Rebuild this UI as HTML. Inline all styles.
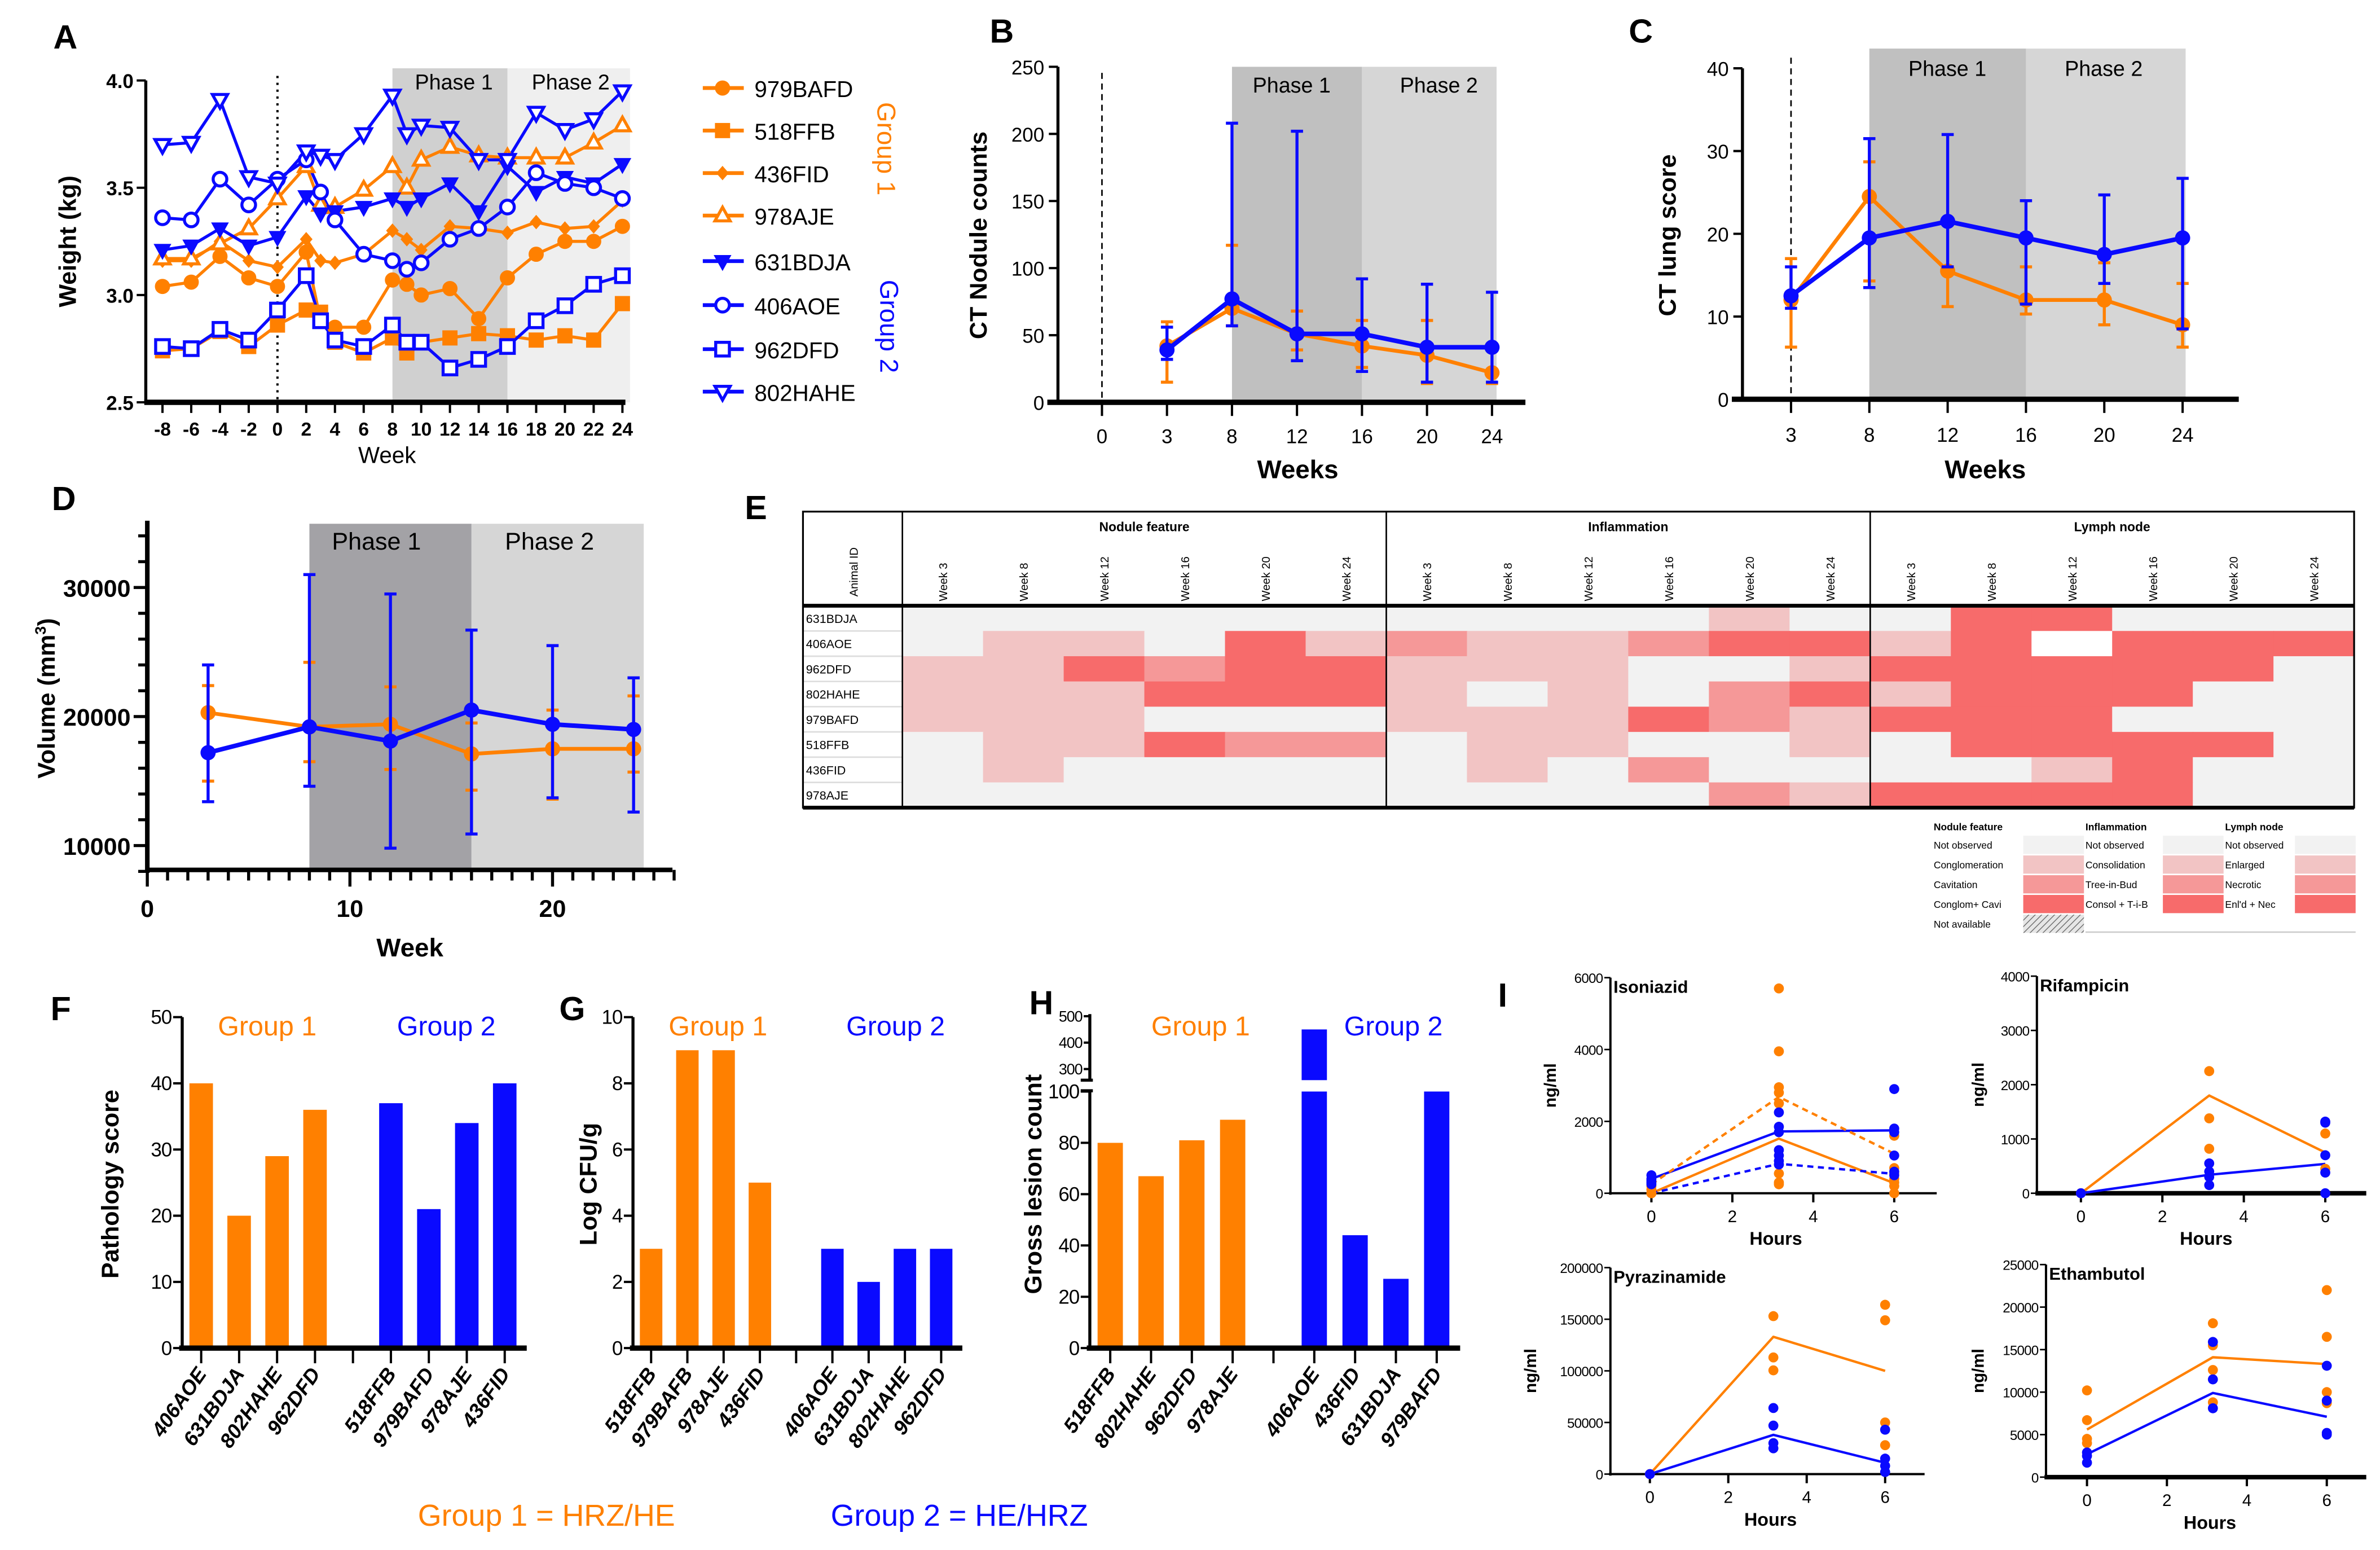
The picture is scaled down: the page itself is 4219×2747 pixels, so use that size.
<!DOCTYPE html>
<html><head><meta charset="utf-8"><style>
html,body{margin:0;padding:0;background:#fff}
svg{display:block}
text{font-family:"Liberation Sans",Arial,sans-serif}
</style></head><body>
<svg id="fig" xmlns="http://www.w3.org/2000/svg" width="4219" height="2747" viewBox="0 0 1568 1021"></svg>
<script>
// ---------- DATA ----------
// Panel A
const weeksA = [-8,-6,-4,-2,0,2,3,4,6,8,9,10,12,14,16,18,20,22,24];
const animalsA = ['979BAFD','518FFB','436FID','978AJE','631BDJA','406AOE','962DFD','802HAHE'];
const w979BAFD = [3.04,3.06,3.18,3.08,3.04,3.20,2.88,2.85,2.85,3.07,3.05,3.00,3.03,2.89,3.08,3.19,3.25,3.25,3.32];
const w518FFB  = [2.74,2.75,2.83,2.76,2.86,2.93,2.92,2.78,2.73,2.80,2.73,2.78,2.80,2.82,2.81,2.79,2.81,2.79,2.96];
const w436FID  = [3.16,3.16,3.25,3.16,3.13,3.26,3.16,3.15,3.19,3.30,3.26,3.21,3.32,3.31,3.29,3.34,3.31,3.32,3.44];
const w978AJE  = [3.17,3.17,3.24,3.31,3.45,3.60,3.42,3.41,3.49,3.60,3.50,3.63,3.69,3.65,3.64,3.64,3.64,3.71,3.79];
const w631BDJA = [3.21,3.23,3.31,3.23,3.27,3.46,3.38,3.39,3.41,3.45,3.41,3.45,3.52,3.39,3.60,3.48,3.55,3.52,3.61];
const w406AOE  = [3.36,3.35,3.54,3.42,3.54,3.63,3.48,3.35,3.19,3.16,3.12,3.15,3.26,3.31,3.41,3.57,3.52,3.50,3.45];
const w962DFD  = [2.76,2.75,2.84,2.79,2.93,3.09,2.88,2.79,2.76,2.86,2.78,2.78,2.66,2.70,2.76,2.88,2.95,3.05,3.09];
const w802HAHE = [3.70,3.71,3.91,3.55,3.52,3.67,3.65,3.63,3.75,3.93,3.75,3.79,3.78,3.63,3.63,3.85,3.77,3.82,3.95];
// Panel B
const weeksB = [3,8,12,16,20,24];
const ticksB = [0,3,8,12,16,20,24];
const nodBlue = [39,77,51,51,41,41];
const nodBlueLo = [32,57,31,23,15,15];
const nodBlueHi = [56,208,202,92,88,82];
const nodOrange = [42,70,51,42,35,22];
const nodOrangeLo = [15,57,39,26,14,14];
const nodOrangeHi = [60,117,68,61,61,24];
// Panel C
const weeksC = [3,8,12,16,20,24];
const lungBlue = [12.5,19.5,21.5,19.5,17.5,19.5];
const lungBlueLo = [11,13.5,16,11.5,14,8.5];
const lungBlueHi = [16,31.5,32,24,24.7,26.7];
const lungOrange = [12,24.5,15.5,12,12,9];
const lungOrangeLo = [6.3,14.3,11.2,10.3,9,6.3];
const lungOrangeHi = [17,28.7,16,16,16.5,14];
// Panel D
const weeksD = [3,8,12,16,20,24];
const volBlue = [17200,19200,18100,20500,19400,19000];
const volBlueLo = [13400,14600,9800,10900,13700,12600];
const volBlueHi = [24000,31000,29500,26700,25500,23000];
const volOrange = [20300,19200,19400,17100,17500,17500];
const volOrangeLo = [15000,16500,15900,14300,13600,15700];
const volOrangeHi = [22400,24200,22300,19500,20500,21600];
// Panel E
const heatRows = ['631BDJA','406AOE','962DFD','802HAHE','979BAFD','518FFB','436FID','978AJE'];
const heatWeeks = ['Week 3','Week 8','Week 12','Week 16','Week 20','Week 24'];
const heatGroups = ['Nodule feature','Inflammation','Lymph node'];
const heatVals = [
 [0,0,0,0,0,0, 0,0,0,0,1,0, 0,3,3,0,0,0],
 [0,1,1,0,3,1, 2,1,1,2,3,3, 1,3,-1,3,3,3],
 [1,1,3,2,3,3, 1,1,1,0,0,1, 3,3,3,3,3,0],
 [1,1,1,3,3,3, 1,0,1,0,2,3, 1,3,3,3,0,0],
 [1,1,1,0,0,0, 1,1,1,3,2,1, 3,3,3,0,0,0],
 [0,1,1,3,2,2, 0,1,1,0,0,1, 0,3,3,3,3,0],
 [0,1,0,0,0,0, 0,1,0,2,0,0, 0,0,1,3,0,0],
 [0,0,0,0,0,0, 0,0,0,0,2,1, 3,3,3,3,0,0]];
const legNodule = ['Not observed','Conglomeration','Cavitation','Conglom+ Cavi','Not available'];
const legInfl = ['Not observed','Consolidation','Tree-in-Bud','Consol + T-i-B'];
const legLymph = ['Not observed','Enlarged','Necrotic','Enl\'d + Nec'];
// Panel F
const catF1 = ['406AOE','631BDJA','802HAHE','962DFD'];
const valF1 = [40,20,29,36];
const catF2 = ['518FFB','979BAFD','978AJE','436FID'];
const valF2 = [37,21,34,40];
// Panel G
const catG1 = ['518FFB','979BAFB','978AJE','436FID'];
const valG1 = [3,9,9,5];
const catG2 = ['406AOE','631BDJA','802HAHE','962DFD'];
const valG2 = [3,2,3,3];
// Panel H
const catH1 = ['518FFB','802HAHE','962DFD','978AJE'];
const valH1 = [80,67,81,89];
const catH2 = ['406AOE','436FID','631BDJA','979BAFD'];
const valH2 = [450,44,27,100];
// Panel I
const hoursI = [0,3.15,6];
const isoO0=[0,100,200,0], isoO3=[5700,3950,2950,2800,2500,550,300,250], isoO6=[1600,700,550,400,300,200,0];
const isoB0=[500,400,350,300,250], isoB3=[2250,1850,1700,1200,1050,900,800], isoB6=[2900,1800,1700,1050,600,500];
const isoLineO=[0,1520,280], isoLineB=[400,1720,1750], isoDashO=[250,2680,1100], isoDashB=[0,820,540];
const rifO0=[0], rifO3=[2250,1380,820], rifO6=[1100,450];
const rifB0=[0], rifB3=[550,400,300,150], rifB6=[1320,1300,700,380,0];
const rifLineO=[0,1800,750], rifLineB=[0,340,540];
const pyrO0=[0], pyrO3=[153000,113000,100500], pyrO6=[164000,149000,50000,28000];
const pyrB0=[0], pyrB3=[64000,47000,30000,25000], pyrB6=[43000,15000,8000,2000];
const pyrLineO=[0,133000,100000], pyrLineB=[0,38000,11000];
const ethO0=[10200,6700,4500,4000], ethO3=[18100,15500,12600,8800], ethO6=[22000,16500,10000,8700];
const ethB0=[2900,2500,1700], ethB3=[15900,11500,8100], ethB6=[13100,9000,5200,5000];
const ethLineO=[5600,14100,13300], ethLineB=[2700,9900,7100];

// ---------- HELPERS ----------
const NS='http://www.w3.org/2000/svg';
const svg=document.getElementById('fig');
const OR='#ff8000', BL='#0a0aff';
function mk(tag,attrs,parent){const e=document.createElementNS(NS,tag);for(const k in attrs)e.setAttribute(k,attrs[k]);(parent||svg).appendChild(e);return e;}
function nm(el,name){


return el;}
function grp(name){const g=mk('g',{});nm(g,name);return g;}
function txt(p,x,y,s,o,name){o=o||{};const t=mk('text',{x:x,y:y,'font-size':o.fs||12,'text-anchor':o.a||'middle',fill:o.c||'#000','font-weight':o.w||'normal'},p);
if(o.rot!==undefined)t.setAttribute('transform','rotate('+o.rot+' '+x+' '+y+')');
if(o.st)t.setAttribute('font-style',o.st);
if(o.ls)t.setAttribute('letter-spacing',o.ls);
t.textContent=s;nm(t,name||'label');return t;}
function line(p,x1,y1,x2,y2,c,w,name,dash){const l=mk('line',{x1:x1,y1:y1,x2:x2,y2:y2,stroke:c,'stroke-width':w},p);if(dash)l.setAttribute('stroke-dasharray',dash);nm(l,name||'line');return l;}
function rect(p,x,y,w,h,f,name){const r=mk('rect',{x:x,y:y,width:w,height:h,fill:f},p);nm(r,name||'rect');return r;}
function poly(p,pts,c,w,name,dash){const l=mk('polyline',{points:pts.map(q=>q[0]+','+q[1]).join(' '),fill:'none',stroke:c,'stroke-width':w,'stroke-linejoin':'round'},p);if(dash)l.setAttribute('stroke-dasharray',dash);nm(l,name||'series-line');return l;}

// ---------- PANEL A ----------
(function(){
const g=grp('panel-a-weight');
const ax=w=>107+(w+8)*9.47, ay=v=>265-(v-2.5)/1.5*212;
txt(g,43,32,'A',{fs:22,w:'bold'},'panel-label-a');
rect(g,ax(8),45,ax(16)-ax(8),220,'#d0d0d0','phase-1-band');
rect(g,ax(16),45,ax(24)+5-ax(16),220,'#efefef','phase-2-band');
txt(g,299,59,'Phase 1',{fs:14},'phase-1-label');
txt(g,376,59,'Phase 2',{fs:14},'phase-2-label');
line(g,ax(0),50,ax(0),265,'#000',1.5,'week-0-dotted-line','1.5,3');
line(g,96,53,96,266,'#000',2,'y-axis');
line(g,95,265,412,265,'#000',3.5,'x-axis');
[2.5,3.0,3.5,4.0].forEach(v=>{line(g,90,ay(v),96,ay(v),'#000',1.5,'y-tick');txt(g,88,ay(v)+5,v.toFixed(1),{fs:13,a:'end',w:'bold'},'y-tick-label');});
for(let w=-8;w<=24;w+=2){line(g,ax(w),265,ax(w),272,'#000',1.5,'x-tick');txt(g,ax(w),287,String(w),{fs:12.5,w:'bold'},'x-tick-label');}
txt(g,255,305,'Week',{fs:15},'x-axis-title');
txt(g,50,159,'Weight (kg)',{fs:16,w:'bold',rot:-90},'y-axis-title');
const series=[[w979BAFD,OR,'circle',1],[w518FFB,OR,'square',1],[w436FID,OR,'diamond',1],[w978AJE,OR,'tri',0],
 [w631BDJA,BL,'itri',1],[w406AOE,BL,'circle',0],[w962DFD,BL,'square',0],[w802HAHE,BL,'itri',0]];
function marker(p,x,y,shape,fill,c,name){let e;const r=4.5;
 if(shape==='circle')e=mk('circle',{cx:x,cy:y,r:r},p);
 else if(shape==='square')e=mk('rect',{x:x-r,y:y-r,width:2*r,height:2*r},p);
 else if(shape==='diamond')e=mk('polygon',{points:`${x},${y-4} ${x+3.5},${y} ${x},${y+4} ${x-3.5},${y}`},p);
 else if(shape==='tri')e=mk('polygon',{points:`${x},${y-5.5} ${x+5},${y+3.5} ${x-5},${y+3.5}`},p);
 else e=mk('polygon',{points:`${x},${y+5.5} ${x+5},${y-3.5} ${x-5},${y-3.5}`},p);
 e.setAttribute('fill',fill?c:'#fff');e.setAttribute('stroke',c);e.setAttribute('stroke-width',fill?1:2);nm(e,name);return e;}
series.forEach((s,i)=>{poly(g,weeksA.map((w,j)=>[ax(w),ay(s[0][j])]),s[1],2,'line-'+animalsA[i]);});
series.forEach((s,i)=>{weeksA.forEach((w,j)=>marker(g,ax(w),ay(s[0][j]),s[2],s[3],s[1],'point-'+animalsA[i]));});
const ly=[58,86,114,142,172,201,230,258];
series.forEach((s,i)=>{const lg=grp('legend-entry-'+animalsA[i]);line(lg,463,ly[i],490,ly[i],s[1],2.5,'legend-line');marker(lg,476,ly[i],s[2],s[3],s[1],'legend-marker');txt(lg,497,ly[i]+6,animalsA[i],{fs:15,a:'start'},'legend-text');});
txt(g,578,98,'Group 1',{fs:17,c:OR,rot:90},'legend-group-1');
txt(g,580,215,'Group 2',{fs:17,c:BL,rot:90},'legend-group-2');
})();

// ---------- error plot helper ----------
function errPlot(g,xs,ys,yv,lo,hi,c,name,lw){
 xs.forEach((x,i)=>{const X=xs[i];line(g,X,ys(lo[i]),X,ys(hi[i]),c,2,name+'-errorbar');line(g,X-4,ys(lo[i]),X+4,ys(lo[i]),c,2,name+'-cap');line(g,X-4,ys(hi[i]),X+4,ys(hi[i]),c,2,name+'-cap');});
 poly(g,xs.map((x,i)=>[x,ys(yv[i])]),c,lw,name+'-line');
 xs.forEach((x,i)=>{const e=mk('circle',{cx:x,cy:ys(yv[i]),r:5,fill:c},g);nm(e,name+'-point');});
}

// ---------- PANEL B ----------
(function(){
const g=grp('panel-b-nodule-counts');
const bx=w=>726+ticksB.indexOf(w)*42.83, by=v=>265-v*0.884;
txt(g,660,28,'B',{fs:22,w:'bold'},'panel-label-b');
rect(g,bx(8),44,bx(16)-bx(8),221,'#c0c0c0','phase-1-band');
rect(g,bx(16),44,bx(24)+3-bx(16),221,'#d6d6d6','phase-2-band');
txt(g,851,61,'Phase 1',{fs:14},'phase-1-label');
txt(g,948,61,'Phase 2',{fs:14},'phase-2-label');
line(g,bx(0),48,bx(0),265,'#000',1,'week-0-dashed-line','4,3');
line(g,697,44,697,266,'#000',2,'y-axis');
line(g,690,265,1005,265,'#000',3.5,'x-axis');
[0,50,100,150,200,250].forEach(v=>{line(g,691,by(v),697,by(v),'#000',1.5,'y-tick');txt(g,688,by(v)+5,String(v),{fs:13,a:'end'},'y-tick-label');});
ticksB.forEach(w=>{line(g,bx(w),265,bx(w),274,'#000',1.5,'x-tick');txt(g,bx(w),292,String(w),{fs:13},'x-tick-label');});
txt(g,855,315,'Weeks',{fs:17,w:'bold'},'x-axis-title');
txt(g,650,155,'CT Nodule counts',{fs:16,w:'bold',rot:-90},'y-axis-title');
const xs=weeksB.map(bx);
errPlot(g,xs,by,nodOrange,nodOrangeLo,nodOrangeHi,OR,'group-1',2.5);
errPlot(g,xs,by,nodBlue,nodBlueLo,nodBlueHi,BL,'group-2',3);
})();

// ---------- PANEL C ----------
(function(){
const g=grp('panel-c-lung-score');
const cx=w=>1180+weeksC.indexOf(w)*51.6, cy=v=>263-v*5.45;
txt(g,1081,28,'C',{fs:22,w:'bold'},'panel-label-c');
rect(g,cx(8),32,cx(16)-cx(8),231,'#c0c0c0','phase-1-band');
rect(g,cx(16),32,cx(24)+2-cx(16),231,'#d6d6d6','phase-2-band');
txt(g,1283,50,'Phase 1',{fs:14},'phase-1-label');
txt(g,1386,50,'Phase 2',{fs:14},'phase-2-label');
line(g,cx(3),38,cx(3),263,'#000',1,'week-3-dashed-line','4,3');
line(g,1148,45,1148,264,'#000',2,'y-axis');
line(g,1141,263,1475,263,'#000',3.5,'x-axis');
[0,10,20,30,40].forEach(v=>{line(g,1142,cy(v),1148,cy(v),'#000',1.5,'y-tick');txt(g,1139,cy(v)+5,String(v),{fs:13,a:'end'},'y-tick-label');});
weeksC.forEach(w=>{line(g,cx(w),263,cx(w),272,'#000',1.5,'x-tick');txt(g,cx(w),291,String(w),{fs:13},'x-tick-label');});
txt(g,1308,315,'Weeks',{fs:17,w:'bold'},'x-axis-title');
txt(g,1104,155,'CT lung score',{fs:16,w:'bold',rot:-90},'y-axis-title');
const xs=weeksC.map(cx);
errPlot(g,xs,cy,lungOrange,lungOrangeLo,lungOrangeHi,OR,'group-1',2.5);
errPlot(g,xs,cy,lungBlue,lungBlueLo,lungBlueHi,BL,'group-2',3);
})();

// ---------- PANEL D ----------
(function(){
const g=grp('panel-d-volume');
const dx=w=>97+w*13.35, dy=v=>557-(v-10000)*0.0085;
txt(g,42,336,'D',{fs:22,w:'bold'},'panel-label-d');
rect(g,dx(8),345,dx(16)-dx(8),228,'#a3a2a6','phase-1-band');
rect(g,dx(16),345,dx(24.5)-dx(16),228,'#d6d6d6','phase-2-band');
txt(g,248,362,'Phase 1',{fs:16},'phase-1-label');
txt(g,362,362,'Phase 2',{fs:16},'phase-2-label');
line(g,97,343,97,575,'#000',3,'y-axis');
line(g,96,573,443,573,'#000',3,'x-axis');
for(let v=10000;v<=34000;v+=2000){const maj=v%10000===0;line(g,maj?88:91,dy(v),97,dy(v),'#000',2,'y-tick');if(maj)txt(g,86,dy(v)+6,String(v),{fs:16,a:'end',w:'bold'},'y-tick-label');}
line(g,91,dy(8000),97,dy(8000),'#000',2,'y-tick');
for(let w=0;w<=26;w++){const maj=w%10===0;line(g,dx(w),573,dx(w),maj?584:580,'#000',2,'x-tick');if(maj)txt(g,dx(w),604,String(w),{fs:16,w:'bold'},'x-tick-label');}
txt(g,270,630,'Week',{fs:17,w:'bold'},'x-axis-title');
const yt=txt(g,36,460,'Volume (mm',{fs:16,w:'bold',rot:-90},'y-axis-title');
const sup=mk('tspan',{'font-size':10,dy:-6},yt);sup.textContent='3';nm(sup,'superscript');
const cl=mk('tspan',{dy:6},yt);cl.textContent=')';nm(cl,'paren');
const xs=weeksD.map(dx);
errPlot(g,xs,dy,volOrange,volOrangeLo,volOrangeHi,OR,'group-1',2.5);
errPlot(g,xs,dy,volBlue,volBlueLo,volBlueHi,BL,'group-2',3);
})();

// ---------- PANEL E ----------
(function(){
const g=grp('panel-e-heatmap');
txt(g,498,342,'E',{fs:22,w:'bold'},'panel-label-e');
const L=529,ID=594.5,R=1551,T=337,HB=399,cw=(R-ID)/18,rh=(532-HB)/8;
const cols=['#f2f2f2','#f2c4c4','#f59898','#f76b6b'];
rect(g,L,T,R-L,195,'#fff','table-background');
heatVals.forEach((row,i)=>row.forEach((v,j)=>{rect(g,ID+j*cw,HB+i*rh,cw+0.4,rh+0.4,v<0?'#ffffff':cols[v],'heat-cell');}));
heatRows.forEach((r,i)=>{line(g,L,HB+i*rh,ID,HB+i*rh,'#ddd',1,'row-divider');txt(g,531,HB+i*rh+rh/2+3,r,{fs:8,a:'start'},'row-label');});
mk('rect',{x:L,y:T,width:R-L,height:195,fill:'none',stroke:'#000','stroke-width':1.2},g);
line(g,L,HB,R,HB,'#000',2.5,'header-divider');
line(g,L,532,R,532,'#000',2.5,'table-bottom');
line(g,ID,T,ID,532,'#000',1,'id-divider');
[6,12].forEach(k=>line(g,ID+k*cw,T,ID+k*cw,532,'#000',1,'group-divider'));
heatGroups.forEach((n,k)=>{txt(g,ID+(k*6+3)*cw,350,n,{fs:8.5,w:'bold'},'column-group-label');
 heatWeeks.forEach((w,j)=>{const x=ID+(k*6+j+0.5)*cw+3;txt(g,x,396,w,{fs:7.5,a:'start',rot:-90},'column-label');});});
txt(g,565,393,'Animal ID',{fs:7.5,a:'start',rot:-90},'id-header');
const lg=grp('heatmap-legend');
const defs=mk('defs',{},svg);const pat=mk('pattern',{id:'hatch',width:3,height:3,patternUnits:'userSpaceOnUse',patternTransform:'rotate(45)'},defs);
rect(pat,0,0,3,3,'#e6e6e6','hatch-bg');line(pat,0,0,0,3,'#666',1,'hatch-line');
txt(lg,1274,547,'Nodule feature',{fs:6.5,a:'start',w:'bold'},'legend-title');
txt(lg,1374,547,'Inflammation',{fs:6.5,a:'start',w:'bold'},'legend-title');
txt(lg,1466,547,'Lymph node',{fs:6.5,a:'start',w:'bold'},'legend-title');
const ry=[550,563,576,589,602];
legNodule.forEach((s,i)=>{txt(lg,1274,ry[i]+9,s,{fs:6.5,a:'start'},'legend-label');rect(lg,1333,ry[i]+0.5,40,12,i<4?cols[i]:'url(#hatch)','legend-swatch');});
legInfl.forEach((s,i)=>{txt(lg,1374,ry[i]+9,s,{fs:6.5,a:'start'},'legend-label');rect(lg,1425,ry[i]+0.5,40,12,cols[i],'legend-swatch');});
legLymph.forEach((s,i)=>{txt(lg,1466,ry[i]+9,s,{fs:6.5,a:'start'},'legend-label');rect(lg,1512,ry[i]+0.5,40,12,cols[i],'legend-swatch');});
line(lg,1374,614,1552,614,'#ccc',1,'legend-bottom');
})();

// ---------- BAR PANELS ----------
function barPanel(name,letter,lx,ly,ax0,ax1,yAt,ticks,cat1,val1,cat2,val2,ytitle,ytx,g1x,g2x,broken){
 const g=grp(name);
 txt(g,lx,ly,letter,{fs:22,w:'bold'},'panel-label-'+letter.toLowerCase());
 const sw=(ax1-ax0)/9, bw=sw*0.62;
 const cx=i=>ax0+sw*(i+0.5);
 const drawBar=(i,v,c,n)=>{ if(broken&&v>100){rect(g,cx(i)-bw/2,yAt(100),bw,888-yAt(100),c,n);rect(g,cx(i)-bw/2,yAt(v),bw,711.5-yAt(v),c,n);} else rect(g,cx(i)-bw/2,yAt(v),bw,888-yAt(v),c,n);};
 val1.forEach((v,i)=>drawBar(i,v,OR,'bar-'+cat1[i]));
 val2.forEach((v,i)=>drawBar(i+5,v,BL,'bar-'+cat2[i]));
 if(broken){line(g,ax0,668,ax0,711.5,'#000',2,'y-axis-upper');line(g,ax0,718.5,ax0,889,'#000',2,'y-axis-lower');line(g,ax0-6,711.5,ax0+2,711.5,'#000',2,'axis-break');line(g,ax0-6,718.5,ax0+2,718.5,'#000',2,'axis-break');}
 else line(g,ax0,670,ax0,889,'#000',2,'y-axis');
 line(g,ax0-2,888,ax1+2,888,'#000',3.5,'x-axis');
 ticks.forEach(v=>{const up=broken&&v>100;line(g,ax0-(up?4:6),yAt(v),ax0,yAt(v),'#000',1.5,'y-tick');txt(g,ax0-(up?5:7),yAt(v)+(up?3.5:4.5),String(v),{fs:up?10:13,a:'end',ls:-0.4},'y-tick-label');});
 for(let i=0;i<9;i++)line(g,cx(i),888,cx(i),898,'#000',1.5,'x-tick');
 cat1.forEach((c,i)=>txt(g,cx(i)+4,905,c,{fs:13.5,a:'end',w:'bold',st:'italic',rot:-55},'x-tick-label'));
 cat2.forEach((c,i)=>txt(g,cx(i+5)+4,905,c,{fs:13.5,a:'end',w:'bold',st:'italic',rot:-55},'x-tick-label'));
 txt(g,g1x,682,'Group 1',{fs:18,c:OR},'group-1-label');
 txt(g,g2x,682,'Group 2',{fs:18,c:BL},'group-2-label');
 txt(g,ytx,780,ytitle,{fs:16,w:'bold',rot:-90},'y-axis-title');
}
barPanel('panel-f-pathology','F',40,672,120,345,v=>888-v*4.36,[0,10,20,30,40,50],catF1,valF1,catF2,valF2,'Pathology score',78,176,294);
barPanel('panel-g-cfu','G',377,672,417,632,v=>888-v*21.8,[0,2,4,6,8,10],catG1,valG1,catG2,valG2,'Log CFU/g',393,473,590);
barPanel('panel-h-lesions','H',686,668,718,960,v=>v<=100?888-v*1.69:711.5-(v-258)*0.174,[0,20,40,60,80,100,300,400,500],catH1,valH1,catH2,valH2,'Gross lesion count',686,791,918,true);
(function(){const g=grp('group-caption');
txt(g,360,1005,'Group 1 = HRZ/HE',{fs:20,c:OR},'group-1-caption');
txt(g,632,1005,'Group 2 = HE/HRZ',{fs:20,c:BL},'group-2-caption');})();

// ---------- PANEL I ----------
txt(svg,990,663,'I',{fs:22,w:'bold'},'panel-label-i');
function pkPlot(name,title,ax0,x0,x6,xr,yTop,y0,ymax,ystep,dots,lines,dashes,ylx,thick){
 const g=grp(name);
 const px=h=>x0+(x6-x0)*h/6, py=v=>y0-(y0-yTop)*v/ymax;
 line(g,ax0,yTop,ax0,y0+1,'#000',1.5,'y-axis');
 line(g,ax0-1,y0,xr,y0,'#000',thick?3:1.5,'x-axis');
 for(let v=0;v<=ymax;v+=ystep){line(g,ax0-4,py(v),ax0,py(v),'#000',1,'y-tick');txt(g,ax0-5,py(v)+3.5,String(v),{fs:9,a:'end',ls:-0.3},'y-tick-label');}
 [0,2,4,6].forEach(h=>{line(g,px(h),y0,px(h),y0+6,'#000',1.5,'x-tick');txt(g,px(h),y0+19,String(h),{fs:11},'x-tick-label');});
 txt(g,(x0+x6)/2+2,y0+34,'Hours',{fs:12,w:'bold'},'x-axis-title');
 txt(g,ylx,(yTop+y0)/2,'ng/ml',{fs:11,w:'bold',rot:-90},'y-axis-title');
 txt(g,ax0+2,yTop+10,title,{fs:11.5,a:'start',w:'bold'},'drug-title');
 lines.forEach(l=>poly(g,hoursI.map((h,i)=>[px(h),py(l[0][i])]),l[1],1.6,l[2]));
 dashes.forEach(l=>poly(g,hoursI.map((h,i)=>[px(h),py(l[0][i])]),l[1],1.6,l[2],'4,3'));
 dots.forEach(d=>d[0].forEach(v=>{const e=mk('circle',{cx:px(d[2]),cy:py(v),r:3.3,fill:d[1]},g);nm(e,d[3]);}));
}
pkPlot('panel-i-isoniazid','Isoniazid',1061,1088,1248,1276,644,786,6000,2000,
 [[isoO0,OR,0,'group-1-dot'],[isoO3,OR,3.15,'group-1-dot'],[isoO6,OR,6,'group-1-dot'],[isoB0,BL,0,'group-2-dot'],[isoB3,BL,3.15,'group-2-dot'],[isoB6,BL,6,'group-2-dot']],
 [[isoLineO,OR,'group-1-mean-line'],[isoLineB,BL,'group-2-mean-line']],[[isoDashO,OR,'group-1-dashed-line'],[isoDashB,BL,'group-2-dashed-line']],1025,false);
pkPlot('panel-i-rifampicin','Rifampicin',1342,1371,1532,1559,643,786,4000,1000,
 [[rifO0,OR,0,'group-1-dot'],[rifO3,OR,3.15,'group-1-dot'],[rifO6,OR,6,'group-1-dot'],[rifB0,BL,0,'group-2-dot'],[rifB3,BL,3.15,'group-2-dot'],[rifB6,BL,6,'group-2-dot']],
 [[rifLineO,OR,'group-1-mean-line'],[rifLineB,BL,'group-2-mean-line']],[],1307,true);
pkPlot('panel-i-pyrazinamide','Pyrazinamide',1061,1087,1242,1268,835,971,200000,50000,
 [[pyrO0,OR,0,'group-1-dot'],[pyrO3,OR,3.15,'group-1-dot'],[pyrO6,OR,6,'group-1-dot'],[pyrB0,BL,0,'group-2-dot'],[pyrB3,BL,3.15,'group-2-dot'],[pyrB6,BL,6,'group-2-dot']],
 [[pyrLineO,OR,'group-1-mean-line'],[pyrLineB,BL,'group-2-mean-line']],[],1012,false);
pkPlot('panel-i-ethambutol','Ethambutol',1348,1375,1533,1559,833,973,25000,5000,
 [[ethO0,OR,0,'group-1-dot'],[ethO3,OR,3.15,'group-1-dot'],[ethO6,OR,6,'group-1-dot'],[ethB0,BL,0,'group-2-dot'],[ethB3,BL,3.15,'group-2-dot'],[ethB6,BL,6,'group-2-dot']],
 [[ethLineO,OR,'group-1-mean-line'],[ethLineB,BL,'group-2-mean-line']],[],1307,true);
</script>
</body></html>
